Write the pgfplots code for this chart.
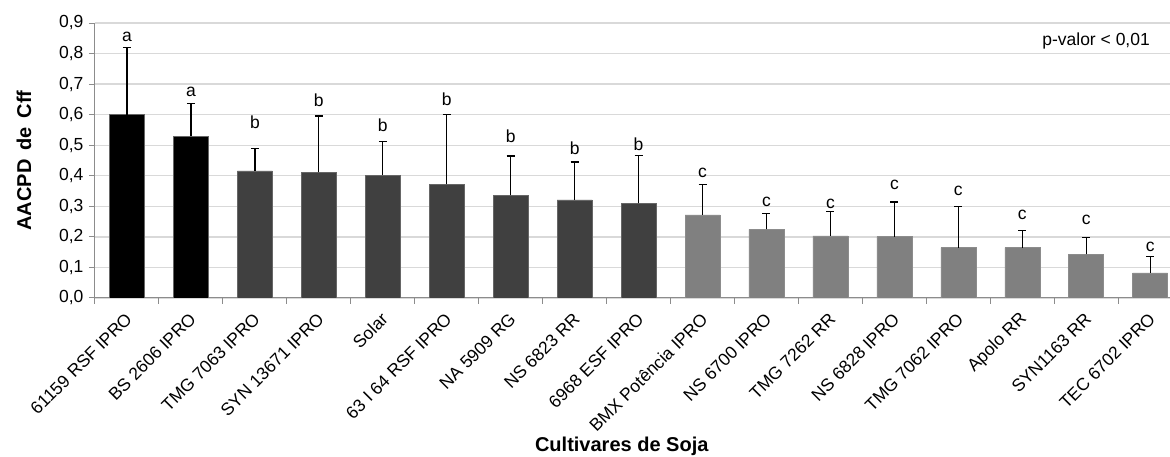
\documentclass[border=0pt]{standalone}
\usepackage{fontspec}
\setmainfont{Liberation Sans}
\usepackage{pgfplots}
\usepackage{pgfplotstable}
\pgfplotsset{compat=1.18}

\pgfplotstableread{
x y e
0 0.600 0.220
1 0.530 0.106
}\tblA
\pgfplotstableread{
x y e
2 0.416 0.074
3 0.411 0.185
4 0.402 0.111
5 0.372 0.228
6 0.336 0.129
7 0.321 0.124
8 0.310 0.157
}\tblB
\pgfplotstableread{
x y e
9 0.272 0.099
10 0.225 0.052
11 0.203 0.080
12 0.201 0.113
13 0.165 0.135
14 0.165 0.057
15 0.143 0.056
16 0.082 0.054
}\tblC

\definecolor{barA}{HTML}{000000}
\definecolor{barB}{HTML}{404040}
\definecolor{barC}{HTML}{808080}

\begin{document}
\begin{tikzpicture}
\begin{axis}[
  at={(0,0)}, anchor=south west,
  scale only axis, width=1075pt, height=275pt,
  xmin=-0.5, xmax=16.31, ymin=0, ymax=0.9,
  axis x line*=bottom, axis y line*=left,
  axis line style={draw=black!45, line width=1pt},
  ymajorgrids, grid style={draw=black!15, line width=1.3pt},
  ytick={0,0.1,0.2,0.3,0.4,0.5,0.6,0.7,0.8,0.9},
  yticklabel style={/pgf/number format/fixed, /pgf/number format/fixed zerofill, /pgf/number format/precision=1, /pgf/number format/use comma, /pgf/number format/assume math mode=true, font=\fontsize{17.5}{18}\selectfont, xshift=-2pt},
  xtick={0,...,16},
  xticklabels={61159 RSF IPRO, BS 2606 IPRO, TMG 7063 IPRO, SYN 13671 IPRO, Solar, 63 I 64 RSF IPRO, NA 5909 RG, NS 6823 RR, 6968 ESF IPRO, BMX Potência IPRO, NS 6700 IPRO, TMG 7262 RR, NS 6828 IPRO, TMG 7062 IPRO, Apolo RR, SYN1163 RR, TEC 6702 IPRO},
  xticklabel style={font=\fontsize{17.5}{18}\selectfont, inner sep=0pt, xshift=2pt, yshift=-12pt, rotate=45, anchor=east},
  major x tick style={draw=none},
  minor xtick={-0.5,0.5,1.5,2.5,3.5,4.5,5.5,6.5,7.5,8.5,9.5,10.5,11.5,12.5,13.5,14.5,15.5},
  minor tick length=6pt, major tick length=6pt,
  tick align=outside,
  tick style={draw=black!45, line width=1pt},
  ylabel={AACPD\, de\, Cff},
  ylabel style={font=\bfseries\fontsize{20}{22}\selectfont, at={(axis description cs:-0.066,0.5)}, anchor=center},
  xlabel={Cultivares de Soja},
  xlabel style={font=\bfseries\fontsize{20}{22}\selectfont, at={(axis description cs:0.49,0)}, anchor=center, yshift=-148pt},
  ybar, bar width=35pt, bar shift=0pt,
  error bars/y dir=plus, error bars/y explicit,
  error bars/error mark options={rotate=90, mark size=4pt, line width=1.3pt, black},
  error bars/error bar style={line width=1.3pt, black},
]
\addplot[fill=barA, draw=black!60, line width=0.5pt] table[x=x, y=y, y error=e]{\tblA};
\addplot[fill=barB, draw=black!60, line width=0.5pt] table[x=x, y=y, y error=e]{\tblB};
\addplot[fill=barC, draw=black!45, line width=0.5pt] table[x=x, y=y, y error=e]{\tblC};

\begin{scope}[every node/.style={font=\fontsize{17.5}{18}\selectfont}]
\node at (axis cs:0,0.855) {a};
\node at (axis cs:1,0.676) {a};
\node at (axis cs:2,0.575) {b};
\node at (axis cs:3,0.646) {b};
\node at (axis cs:4,0.567) {b};
\node at (axis cs:5,0.649) {b};
\node at (axis cs:6,0.529) {b};
\node at (axis cs:7,0.489) {b};
\node at (axis cs:8,0.502) {b};
\node at (axis cs:9,0.411) {c};
\node at (axis cs:10,0.315) {c};
\node at (axis cs:11,0.307) {c};
\node at (axis cs:12,0.369) {c};
\node at (axis cs:13,0.351) {c};
\node at (axis cs:14,0.271) {c};
\node at (axis cs:15,0.255) {c};
\node at (axis cs:16,0.166) {c};
\node[anchor=east] at (axis cs:16.05,0.842) {p-valor < 0,01};
\end{scope}
\end{axis}
\pgfresetboundingbox
\useasboundingbox (-95pt,-159pt) rectangle (1075pt,298pt);
\end{tikzpicture}
\end{document}
